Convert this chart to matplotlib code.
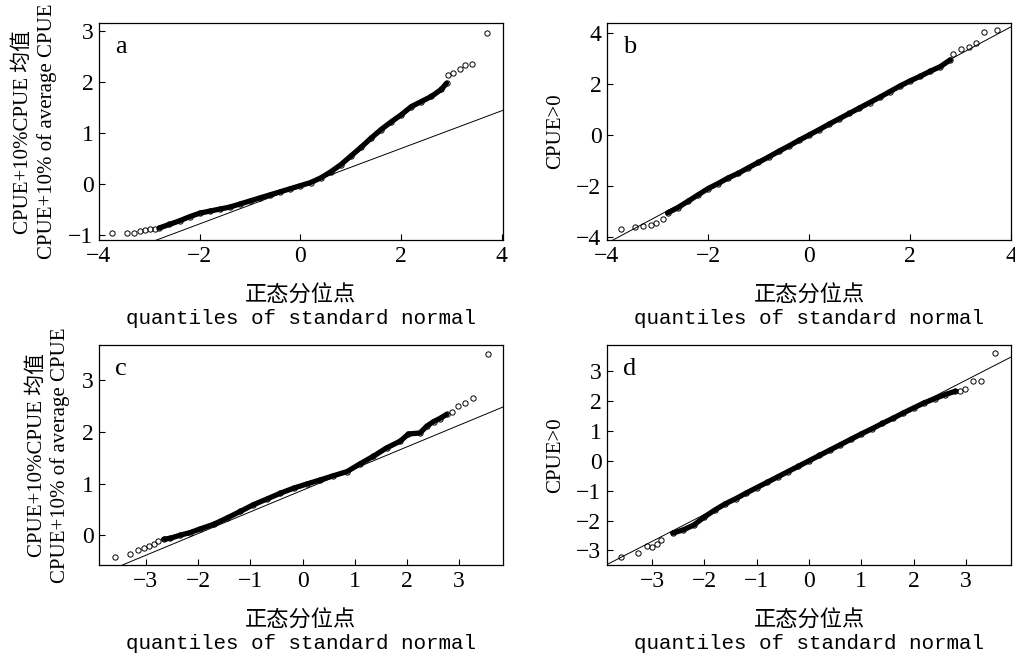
import matplotlib
matplotlib.use('Agg')
import matplotlib.pyplot as plt

plt.rcParams['font.family'] = ['Liberation Serif', 'Noto Sans CJK SC']

# panel a: CPUE+10% of average CPUE
xa = [-3.74,-3.45,-3.30,-3.19,-3.09,-2.99,-2.89,
      -2.8,-2.6,-2.4,-2.2,-2.0,-1.8,-1.6,-1.4,-1.2,-1.0,-0.8,-0.6,-0.4,-0.2,0.0,
      0.2,0.4,0.6,0.8,1.0,1.2,1.4,1.6,1.8,2.0,2.2,2.4,2.6,2.8,2.9,
      2.93,3.03,3.17,3.26,3.40,3.70]
ya = [-0.95,-0.95,-0.96,-0.92,-0.90,-0.88,-0.88,
      -0.86,-0.79,-0.72,-0.64,-0.57,-0.53,-0.49,-0.45,-0.39,-0.33,-0.27,-0.21,-0.15,-0.09,-0.03,
      0.03,0.12,0.24,0.38,0.55,0.72,0.90,1.07,1.22,1.36,1.52,1.62,1.72,1.86,1.98,
      2.14,2.18,2.25,2.34,2.36,2.97]
line_a = (-0.04, 0.37)

# panel b: CPUE>0
xb = [-3.73,-3.44,-3.29,-3.12,-3.02,-2.89,
      -2.8,-2.6,-2.4,-2.2,-2.0,-1.8,-1.6,-1.4,-1.2,-1.0,-0.8,-0.6,-0.4,-0.2,0.0,
      0.2,0.4,0.6,0.8,1.0,1.2,1.4,1.6,1.8,2.0,2.2,2.4,2.6,2.8,
      2.86,3.02,3.16,3.31,3.46,3.72]
yb = [-3.69,-3.60,-3.56,-3.53,-3.43,-3.28,
      -3.05,-2.85,-2.60,-2.35,-2.10,-1.90,-1.68,-1.50,-1.28,-1.07,-0.86,-0.64,-0.43,-0.21,0.0,
      0.21,0.43,0.64,0.85,1.06,1.27,1.48,1.70,1.92,2.12,2.30,2.50,2.68,2.95,
      3.19,3.38,3.44,3.61,4.02,4.13]
line_b = (0.0, 1.06)

# panel c
xc = [-3.60,-3.30,-3.15,-3.04,-2.95,-2.85,-2.76,
      -2.66,-2.53,-2.34,-2.15,-1.96,-1.70,-1.45,-1.19,-0.94,-0.68,-0.43,-0.17,0.08,
      0.34,0.59,0.85,1.10,1.36,1.61,1.87,2.03,2.25,2.38,2.51,2.63,2.76,
      2.86,2.98,3.11,3.27,3.56]
yc = [-0.42,-0.37,-0.28,-0.25,-0.22,-0.17,-0.12,
      -0.08,-0.06,0.0,0.05,0.12,0.21,0.33,0.46,0.59,0.70,0.81,0.91,0.99,
      1.07,1.15,1.23,1.38,1.53,1.69,1.82,1.96,1.98,2.11,2.20,2.26,2.34,
      2.39,2.50,2.57,2.66,3.52]
line_c = (0.87, 0.42)

# panel d
xd = [-3.59,-3.27,-3.10,-3.00,-2.91,-2.82,
      -2.6,-2.4,-2.2,-2.0,-1.8,-1.6,-1.4,-1.2,-1.0,-0.8,-0.6,-0.4,-0.2,0.0,
      0.2,0.4,0.6,0.8,1.0,1.2,1.4,1.6,1.8,2.0,2.2,2.4,2.6,2.8,
      2.89,2.98,3.14,3.29,3.55]
yd = [-3.23,-3.08,-2.85,-2.88,-2.80,-2.66,
      -2.42,-2.31,-2.15,-1.88,-1.65,-1.44,-1.27,-1.08,-0.90,-0.72,-0.54,-0.36,-0.18,0.0,
      0.18,0.36,0.54,0.72,0.90,1.07,1.25,1.42,1.60,1.77,1.94,2.08,2.22,2.33,
      2.33,2.39,2.67,2.67,3.60]
line_d = (0.0, 0.90)

# number of sparse tail points (low, high) in each panel
tails = [(7, 6), (6, 6), (7, 5), (6, 5)]

ylab1 = 'CPUE+10%CPUE 均值\nCPUE+10% of average CPUE'
ylab2 = 'CPUE>0'

panels = [
    ('a', xa, ya, line_a, ylab1, [0.0975, 0.635, 0.398, 0.330], (-4, 4.02), (-1.1, 3.16), [-4,-2,0,2,4], [-1,0,1,2,3]),
    ('b', xb, yb, line_b, ylab2, [0.598, 0.635, 0.398, 0.330], (-4, 4.0), (-4.12, 4.39), [-4,-2,0,2,4], [-4,-2,0,2,4]),
    ('c', xc, yc, line_c, ylab1, [0.0975, 0.1413, 0.398, 0.334], (-3.9, 3.84), (-0.58, 3.68), [-3,-2,-1,0,1,2,3], [0,1,2,3]),
    ('d', xd, yd, line_d, ylab2, [0.598, 0.1413, 0.398, 0.334], (-3.86, 3.86), (-3.49, 3.87), [-3,-2,-1,0,1,2,3], [-3,-2,-1,0,1,2,3]),
]

fig = plt.figure(figsize=(10.15, 6.58), dpi=100)
for (lab, x, y, (b0, b1), ylab, pos, xl, yl, xt, yt), (lo, hi) in zip(panels, tails):
    ax = fig.add_axes(pos)
    ax.axline((0, b0), slope=b1, color='black', lw=0.7, zorder=1)
    ax.plot(x, y, 'o', mfc='none', mec='black', ms=3.8, mew=0.7, zorder=3)
    # dense core of the qq points
    core = slice(lo, len(x) - hi)
    ax.plot(x[core], y[core], color='black', lw=3.8, solid_capstyle='round',
            solid_joinstyle='round', zorder=4)
    ax.set_xlim(*xl)
    ax.set_ylim(*yl)
    ax.set_xticks(xt)
    ax.set_yticks(yt)
    ax.set_xticklabels([str(v).replace('-', '\u2212') for v in xt])
    ax.set_yticklabels([str(v).replace('-', '\u2212') for v in yt])
    ax.tick_params(direction='in', length=4, width=0.8, labelsize=17, pad=4)
    for s in ax.spines.values():
        s.set_linewidth(0.9)
    ax.text(0.04, 0.94, lab, transform=ax.transAxes, fontsize=19, va='top', ha='left')
    ax.set_ylabel(ylab, fontsize=15, linespacing=1.25, labelpad=8)
    ax.annotate('正态分位点', xy=(0.5, 0), xycoords='axes fraction',
                xytext=(0, -55), textcoords='offset pixels', ha='center', va='center',
                fontsize=16, family=['Noto Sans CJK SC'])
    ax.annotate('quantiles of standard normal', xy=(0.5, 0), xycoords='axes fraction',
                xytext=(0, -78), textcoords='offset pixels', ha='center', va='center',
                fontsize=15, family=['Liberation Mono'])

fig.savefig('out.png', dpi=100)
